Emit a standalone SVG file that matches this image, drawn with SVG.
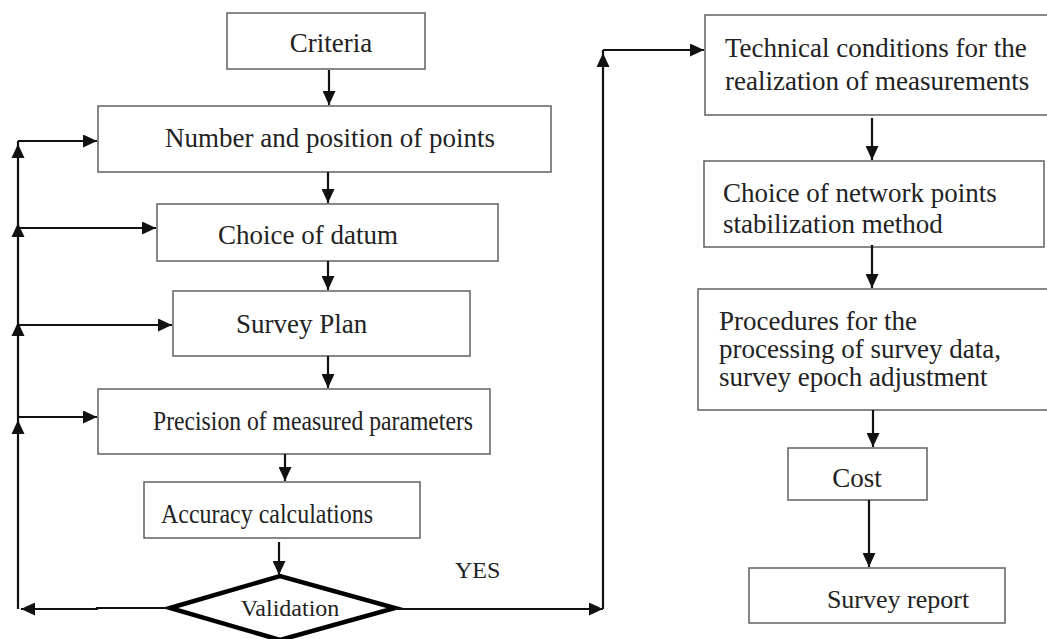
<svg xmlns="http://www.w3.org/2000/svg" width="1047" height="639" viewBox="0 0 1047 639">
<style>
.box{fill:#fff;stroke:#6a6a6a;stroke-width:1.6}
.t{font-family:"Liberation Serif","Times New Roman",serif;fill:#222;font-size:27px}
.c{stroke:#111;stroke-width:2.2;fill:none}
.h{fill:#111;stroke:none}
</style>
<defs>
<marker id="ah" markerUnits="userSpaceOnUse" markerWidth="15" markerHeight="13" refX="14" refY="6.5" orient="auto">
<path d="M0,0 L14,6.5 L0,13 Z" fill="#111"/>
</marker>
</defs>
<rect width="1047" height="639" fill="#fff"/>

<g id="criteria"><rect class="box" x="227" y="13" width="198" height="56"/><text class="t" x="331" y="52" text-anchor="middle">Criteria</text></g>
<g id="number"><rect class="box" x="98" y="106" width="453" height="66"/><text class="t" x="330" y="147" text-anchor="middle">Number and position of points</text></g>
<g id="datum"><rect class="box" x="157" y="204" width="341" height="57"/><text class="t" x="218" y="244">Choice of datum</text></g>
<g id="plan"><rect class="box" x="173" y="291" width="297" height="65"/><text class="t" x="236" y="333">Survey Plan</text></g>
<g id="precision"><rect class="box" x="98" y="389" width="392" height="65"/><text class="t" x="153" y="430" style="font-size:28px" textLength="320" lengthAdjust="spacingAndGlyphs">Precision of measured parameters</text></g>
<g id="accuracy"><rect class="box" x="144" y="482" width="276" height="56"/><text class="t" x="161" y="523" style="font-size:28px" textLength="212" lengthAdjust="spacingAndGlyphs">Accuracy calculations</text></g>
<g id="validation"><polygon points="170,608 280,576 395,608 280,640" fill="#fff" stroke="#000" stroke-width="4.5" stroke-linejoin="miter"/><text class="t" x="290" y="616" text-anchor="middle" style="font-size:24px">Validation</text></g>
<g id="yes"><text class="t" x="455" y="578" style="font-size:24px">YES</text></g>

<g id="technical"><rect class="box" x="705" y="15" width="345" height="100"/><text class="t" x="725" y="57">Technical conditions for the</text><text class="t" x="725" y="90">realization of measurements</text></g>
<g id="network"><rect class="box" x="704" y="161" width="340" height="86"/><text class="t" x="723" y="202">Choice of network points</text><text class="t" x="723" y="233">stabilization method</text></g>
<g id="procedures"><rect class="box" x="698" y="289" width="352" height="121"/><text class="t" x="719" y="330">Procedures for the</text><text class="t" x="719" y="358">processing of survey data,</text><text class="t" x="719" y="386">survey epoch adjustment</text></g>
<g id="cost"><rect class="box" x="788" y="448" width="139" height="52"/><text class="t" x="857" y="487" text-anchor="middle">Cost</text></g>
<g id="report"><rect class="box" x="749" y="568" width="256" height="55"/><text class="t" x="898" y="608" text-anchor="middle" style="font-size:26px">Survey report</text></g>

<g id="connectors">
<line class="c" x1="329" y1="70" x2="329" y2="105" marker-end="url(#ah)"/>
<line class="c" x1="328" y1="172" x2="328" y2="203" marker-end="url(#ah)"/>
<line class="c" x1="328" y1="261" x2="328" y2="290" marker-end="url(#ah)"/>
<line class="c" x1="328" y1="356" x2="328" y2="388" marker-end="url(#ah)"/>
<line class="c" x1="285" y1="454" x2="285" y2="481" marker-end="url(#ah)"/>
<line class="c" x1="279" y1="542" x2="279" y2="575" marker-end="url(#ah)"/>

<polyline class="c" points="170,608 97,608 97,609 21,609" marker-end="url(#ah)"/>
<line class="c" x1="18" y1="609" x2="18" y2="141"/>
<line class="c" x1="18" y1="141" x2="97" y2="141" marker-end="url(#ah)"/>
<line class="c" x1="18" y1="228" x2="156" y2="228" marker-end="url(#ah)"/>
<line class="c" x1="18" y1="325" x2="172" y2="325" marker-end="url(#ah)"/>
<line class="c" x1="18" y1="417" x2="97" y2="417" marker-end="url(#ah)"/>
<polygon class="h" points="18,144 11.5,158 24.5,158"/>
<polygon class="h" points="18,223 11.5,237 24.5,237"/>
<polygon class="h" points="18,322 11.5,336 24.5,336"/>
<polygon class="h" points="18,420 11.5,434 24.5,434"/>

<polyline class="c" points="395,609 603,609" marker-end="url(#ah)"/>
<line class="c" x1="603" y1="609" x2="603" y2="50"/>
<polygon class="h" points="603,53 596.5,67 609.5,67"/>
<line class="c" x1="603" y1="50" x2="704" y2="50" marker-end="url(#ah)"/>

<line class="c" x1="872" y1="118" x2="872" y2="160" marker-end="url(#ah)"/>
<line class="c" x1="872" y1="245" x2="872" y2="288" marker-end="url(#ah)"/>
<line class="c" x1="873" y1="410" x2="873" y2="447" marker-end="url(#ah)"/>
<line class="c" x1="869" y1="500" x2="869" y2="567" marker-end="url(#ah)"/>
</g>
</svg>
